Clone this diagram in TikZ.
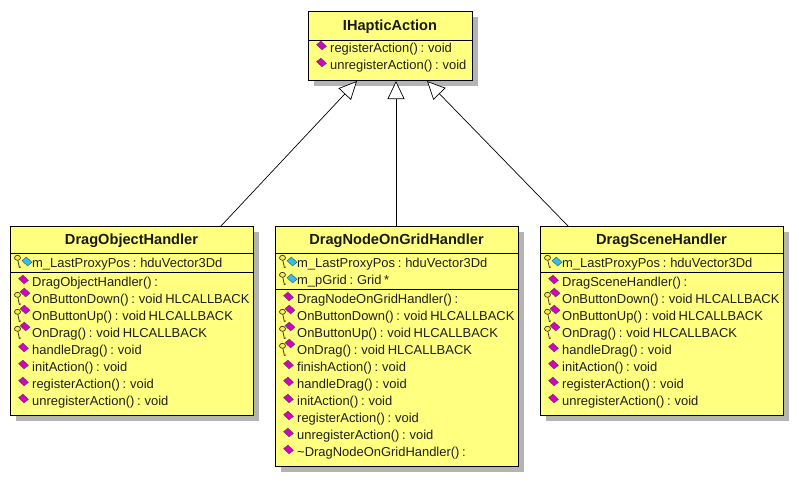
\documentclass[tikz,border=0pt]{standalone}
\usepackage{fontspec}
\setmainfont[WordSpace=0.75]{Liberation Sans}
\usetikzlibrary{arrows.meta}
\definecolor{umlyellow}{HTML}{FFFF80}
\definecolor{umlshadow}{HTML}{B4B4B4}
\definecolor{opmag}{HTML}{D800C0}
\definecolor{attrcy}{HTML}{30C0F0}
\definecolor{keyyel}{HTML}{FFF040}
\tikzset{
  classbox/.style={draw=black,fill=umlyellow,line width=0.9pt,inner sep=0pt,anchor=north west},
  shadowbox/.style={fill=umlshadow,draw=none},
  divider/.style={black,line width=0.8pt},
  titletext/.style={font=\fontsize{14.6}{16}\selectfont\bfseries,inner sep=0pt,anchor=center,text=black!90},
  membertext/.style={font=\fontsize{12.95}{15}\selectfont,inner sep=0pt,anchor=west,text=black!88},
  inherit/.style={black,line width=0.7pt,-{Triangle[open,fill=white,length=18pt,width=17pt,line width=0.7pt]}},
  diamondicon/.style={draw=black!70,line width=0.4pt,line join=round},
  keyicon/.style={draw=black!80,fill=keyyel,line width=0.7pt},
}
% \classbox{name}{left}{top}{right}{bottom}{title}{title rule y}
\newcommand{\classbox}[7]{%
  \fill[shadowbox] (#2+6,#3+6) rectangle (#4+6,#5+6);
  \node[classbox,minimum width=#4-#2-0.4,minimum height=#5-#3] (#1) at (#2,#3) {};
  \node[titletext] (#1title) at ({(#2+#4)/2},{(#3+#7)/2+1.5}) {#6};
  \draw[divider] (#1.west |- 0,#7) -- (#1.east |- 0,#7);
}
\newcommand{\rulefrom}[2]{\draw[divider] (#1.west |- 0,#2) -- (#1.east |- 0,#2);}
% slightly skewed diamond, as in the reference's icons
\newcommand{\dia}[3]{\path[diamondicon,fill=#3] (#1-5,#2-0.8) -- (#1-0.6,#2-4.4) -- (#1+5,#2+0.8) -- (#1+0.6,#2+4.4) -- cycle;}
\newcommand{\keyic}[2]{%
  \draw[keyicon] (#1+0.3,#2-1) -- (#1+1.8,#2+6.5) -- (#1+3.6,#2+5.8);
  \draw[keyicon] (#1,#2-3.2) ellipse (3 and 2.5);
}
% \pubop{node}{left}{y}{text}
\newcommand{\pubop}[4]{\dia{#2+13.5}{#3-1.5}{opmag}\node[membertext] (#1) at (#2+22,#3+1.8) {#4};}
\newcommand{\protop}[4]{\keyic{#2+7.5}{#3}\dia{#2+15}{#3-5.5}{opmag}\node[membertext] (#1) at (#2+22,#3+1.8) {#4};}
\newcommand{\privattr}[4]{\keyic{#2+7.5}{#3-1}\dia{#2+17}{#3-0.5}{attrcy}\node[membertext] (#1) at (#2+22,#3+1.8) {#4};}
\begin{document}
\begin{tikzpicture}[x=1pt,y=-1pt]
\useasboundingbox (0,0) rectangle (799,482);
% parent
\classbox{act}{308}{11}{472}{80}{IHapticAction}{40}
\pubop{a1}{308}{47}{registerAction() : void}
\pubop{a2}{308}{64}{unregisterAction() : void}
% left
\classbox{obj}{10}{226}{253}{415}{DragObjectHandler}{253}
\privattr{o0}{10}{262}{m\_LastProxyPos : hduVector3Dd}
\rulefrom{obj}{272}
\pubop{o1}{10}{281}{DragObjectHandler() :}
\protop{o2}{10}{298}{OnButtonDown() : void HLCALLBACK}
\protop{o3}{10}{315}{OnButtonUp() : void HLCALLBACK}
\protop{o4}{10}{332}{OnDrag() : void HLCALLBACK}
\pubop{o5}{10}{349}{handleDrag() : void}
\pubop{o6}{10}{366}{initAction() : void}
\pubop{o7}{10}{383}{registerAction() : void}
\pubop{o8}{10}{400}{unregisterAction() : void}
% middle
\classbox{grid}{275}{226}{518}{466}{DragNodeOnGridHandler}{253}
\privattr{g0}{275}{262}{m\_LastProxyPos : hduVector3Dd}
\privattr{g1}{275}{279}{m\_pGrid : Grid *}
\rulefrom{grid}{289}
\pubop{g2}{275}{298}{DragNodeOnGridHandler() :}
\protop{g3}{275}{315}{OnButtonDown() : void HLCALLBACK}
\protop{g4}{275}{332}{OnButtonUp() : void HLCALLBACK}
\protop{g5}{275}{349}{OnDrag() : void HLCALLBACK}
\pubop{g6}{275}{366}{finishAction() : void}
\pubop{g7}{275}{383}{handleDrag() : void}
\pubop{g8}{275}{400}{initAction() : void}
\pubop{g9}{275}{417}{registerAction() : void}
\pubop{g10}{275}{434}{unregisterAction() : void}
\pubop{g11}{275}{451}{\textasciitilde DragNodeOnGridHandler() :}
% right
\classbox{scn}{540}{226}{783}{415}{DragSceneHandler}{253}
\privattr{s0}{540}{262}{m\_LastProxyPos : hduVector3Dd}
\rulefrom{scn}{272}
\pubop{s1}{540}{281}{DragSceneHandler() :}
\protop{s2}{540}{298}{OnButtonDown() : void HLCALLBACK}
\protop{s3}{540}{315}{OnButtonUp() : void HLCALLBACK}
\protop{s4}{540}{332}{OnDrag() : void HLCALLBACK}
\pubop{s5}{540}{349}{handleDrag() : void}
\pubop{s6}{540}{366}{initAction() : void}
\pubop{s7}{540}{383}{registerAction() : void}
\pubop{s8}{540}{400}{unregisterAction() : void}
% connectors
\coordinate (tipL) at (357,81);
\coordinate (tipM) at (396,81);
\coordinate (tipR) at (427,81);
\coordinate (tailL) at (221,226);
\coordinate (tailR) at (568,226);
\draw[inherit] (obj.north -| tailL) -- (tipL);
\draw[inherit] (grid.north -| tipM) -- (tipM);
\draw[inherit] (scn.north -| tailR) -- (tipR);
\end{tikzpicture}
\end{document}
